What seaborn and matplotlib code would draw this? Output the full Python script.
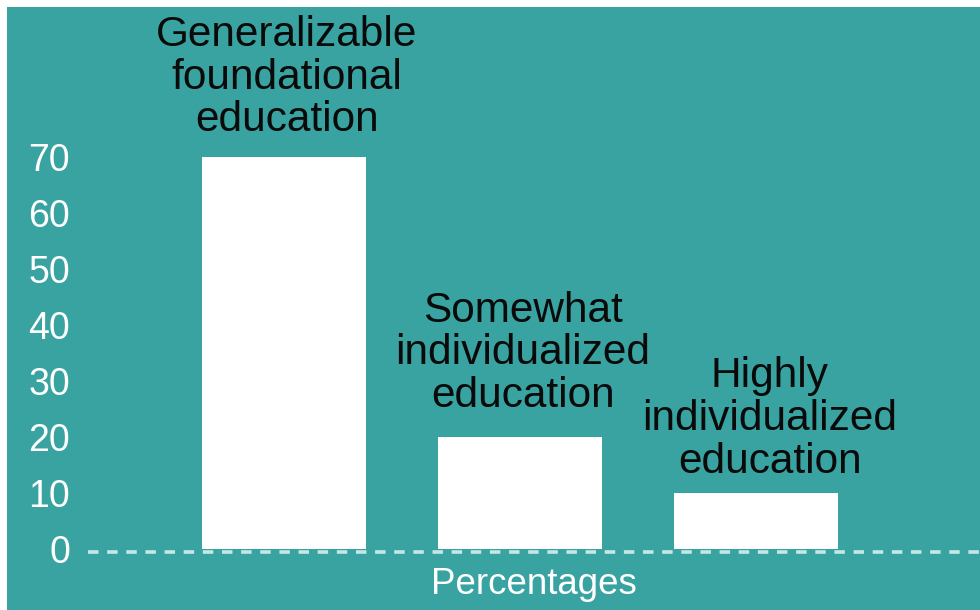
import matplotlib
matplotlib.use("Agg")
import matplotlib.pyplot as plt
import seaborn as sns
import pandas as pd
from matplotlib.patches import Rectangle

categories = ["Generalizable\nfoundational\neducation",
              "Somewhat\nindividualized\neducation",
              "Highly\nindividualized\neducation"]
values = [70, 20, 10]
yticks = [0, 10, 20, 30, 40, 50, 60, 70]
xlabel = "Percentages"

TEAL = "#38a3a1"
label_offsets = [(2, 12), (2, 15), (10, 8)]

sns.set_theme(style="white")
plt.rcParams['font.family'] = ['Liberation Sans', 'DejaVu Sans']

fig = plt.figure(figsize=(9.8, 6.1), dpi=100)
fig.patch.set_facecolor("white")
fig.add_artist(Rectangle((7 / 980, 0), 1 - 7 / 980, 603 / 610,
                         transform=fig.transFigure, facecolor=TEAL,
                         edgecolor="none", zorder=0))

ax = fig.add_axes([88 / 980, 61 / 610, 892 / 980, 542 / 610])
ax.set_facecolor("none")

df = pd.DataFrame({"category": categories, "value": values})
sns.barplot(data=df, x="category", y="value", color="white", saturation=1,
            width=0.695, ax=ax, zorder=3, linewidth=0)

ax.set_xlim(-0.83, 2.95)
ax.set_ylim(0, 96.8)
ax.axhline(-0.5, color="#c4e8e6", lw=2.6, ls=(0, (2.9, 2.4)), zorder=2,
           clip_on=False)

for i, (cat, v) in enumerate(zip(categories, values)):
    ax.annotate(cat, xy=(i, v), xytext=label_offsets[i],
                textcoords="offset points", ha="center", va="bottom",
                fontsize=30.5, color="#0a0a0a", linespacing=1.09)

ax.set_yticks(yticks)
ax.set_yticklabels([str(t) for t in yticks])
ax.tick_params(axis="y", colors="white", labelsize=27, length=0, pad=13)
ax.tick_params(axis="x", bottom=False, labelbottom=False)
ax.set_xlabel(xlabel, color="white", fontsize=26.5, labelpad=13)
ax.set_ylabel("")
for s in ax.spines.values():
    s.set_visible(False)

fig.savefig("out.png", dpi=100)
